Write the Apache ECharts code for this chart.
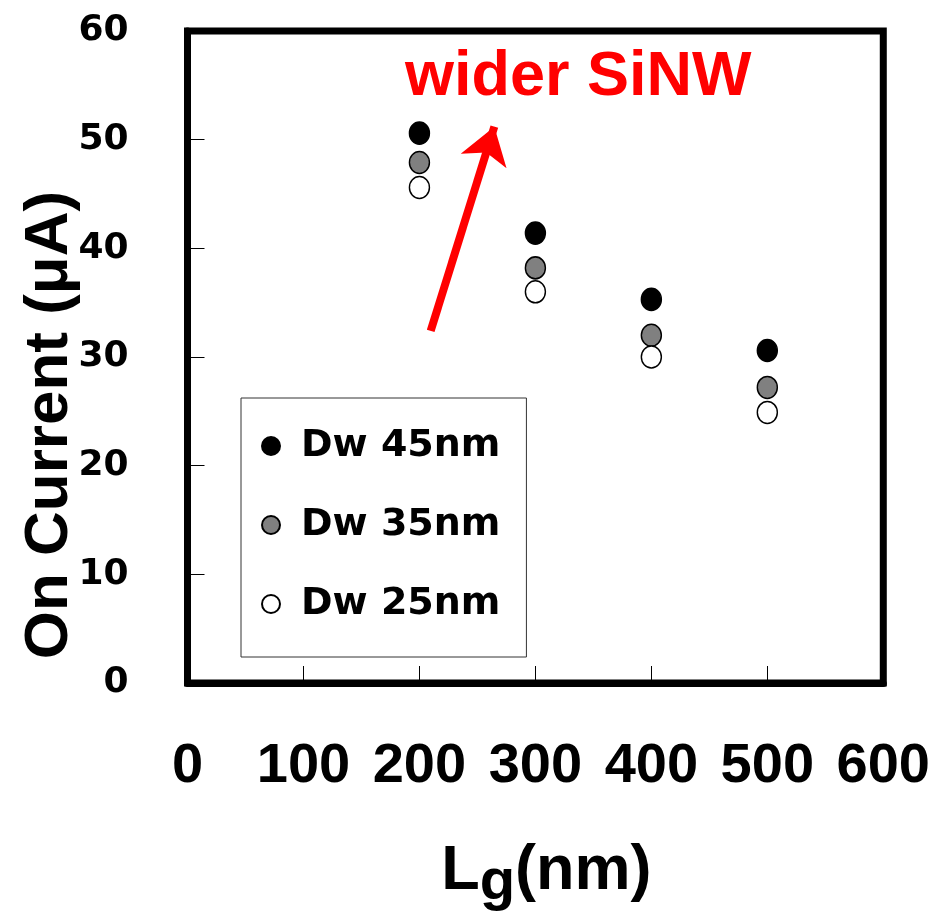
<!DOCTYPE html>
<html>
<head>
<meta charset="utf-8">
<script src="https://cdn.jsdelivr.net/npm/echarts@6/dist/echarts.min.js"></script>
<style>
html,body{margin:0;padding:0;background:#fff;overflow:hidden;}
#main{width:933px;height:917px;}
</style>
</head>
<body>
<div id="main"></div>
<script>
// Data
var lg = [200, 300, 400, 500];
var dw45 = [50.6, 41.4, 35.3, 30.6];
var dw35 = [47.9, 38.2, 32.0, 27.2];
var dw25 = [45.6, 36.0, 30.0, 24.9];
var seriesNames = ['Dw 45nm', 'Dw 35nm', 'Dw 25nm'];
var xTicks = [0, 100, 200, 300, 400, 500, 600];
var yTicks = [0, 10, 20, 30, 40, 50, 60];
// annotation arrow (data coordinates)
var arrowStart = [209.7, 32.4];
var arrowEnd = [264.6, 51.2];
var annotationText = 'wider SiNW';

function pairs(xs, ys) { return xs.map(function (x, i) { return [x, ys[i]]; }); }

var chart = echarts.init(document.getElementById('main'), null, {renderer: 'canvas', width: 933, height: 917});
var symSize = [20, 22];
var option = {
  backgroundColor: '#ffffff',
  animation: false,
  grid: {
    left: 187.5, top: 31, right: 46, bottom: 230,
    show: true, borderColor: '#000', borderWidth: 7, backgroundColor: 'transparent'
  },
  xAxis: {
    type: 'value', min: 0, max: 600, interval: 100,
    axisLine: {lineStyle: {color: '#000', width: 7}},
    axisTick: {inside: true, length: 17, lineStyle: {color: '#000', width: 1}},
    splitLine: {show: false},
    axisLabel: {
      margin: 56, color: '#000', fontFamily: '"Liberation Sans", Arial',
      fontWeight: 'bold', fontSize: 56,
      formatter: function (v) { return xTicks.indexOf(v) >= 0 ? String(v) : ''; }
    },
    name: '{a|L}{g|g}{a|(nm)}',
    nameLocation: 'middle',
    nameGap: 149,
    nameTextStyle: {
      padding: [0, 0, 0, 22],
      rich: {
        a: {fontFamily: '"Liberation Sans", Arial', fontWeight: 'bold', fontSize: 63, color: '#000', lineHeight: 80},
        g: {fontFamily: '"Liberation Sans", Arial', fontWeight: 'bold', fontSize: 58, color: '#000', lineHeight: 60, verticalAlign: 'bottom'}
      }
    }
  },
  yAxis: {
    type: 'value', min: 0, max: 60, interval: 10,
    axisLine: {lineStyle: {color: '#000', width: 7}},
    axisTick: {inside: true, length: 17, lineStyle: {color: '#000', width: 1}},
    splitLine: {show: false},
    axisLabel: {
      margin: 59, color: '#000', fontFamily: '"DejaVu Sans", sans-serif',
      fontWeight: 'bold', fontSize: 36,
      formatter: function (v) { return yTicks.indexOf(v) >= 0 ? String(v) : ''; }
    }
  },
  legend: {
    orient: 'vertical',
    left: 241, top: 398,
    padding: [28, 26, 33, 20],
    itemGap: 39,
    itemWidth: 18, itemHeight: 22,
    borderColor: '#333', borderWidth: 1,
    backgroundColor: '#fff',
    textStyle: {fontFamily: '"DejaVu Sans", sans-serif', fontWeight: 'bold', fontSize: 38, color: '#000', lineHeight: 40, padding: [0, 0, 0, 16]},
    data: seriesNames.map(function (n) { return {name: n, icon: 'circle'}; })
  },
  graphic: [
    {
      type: 'text', left: 405, top: 46,
      style: {text: annotationText, fill: '#ff0000', font: 'bold 63px "Liberation Sans", Arial'}
    },
    {
      type: 'text', x: 50, y: 425, rotation: Math.PI / 2,
      style: {text: 'On Current (\u03bcA)', fill: '#000', font: 'bold 62px "Liberation Sans", Arial', align: 'center', verticalAlign: 'middle'}
    }
  ],
  series: [
    {
      name: seriesNames[0], type: 'scatter', symbol: 'circle', symbolSize: symSize,
      itemStyle: {color: '#000', borderColor: '#000', borderWidth: 1.5, opacity: 1},
      data: pairs(lg, dw45), z: 3,
      markLine: {
        silent: true, animation: false,
        symbol: ['none', 'arrow'], symbolSize: 36,
        lineStyle: {color: '#ff0000', width: 8, type: 'solid'},
        label: {show: false},
        data: [[{coord: arrowStart}, {coord: arrowEnd}]]
      }
    },
    {
      name: seriesNames[1], type: 'scatter', symbol: 'circle', symbolSize: symSize,
      itemStyle: {color: '#808080', borderColor: '#000', borderWidth: 1.5, opacity: 1},
      data: pairs(lg, dw35), z: 3
    },
    {
      name: seriesNames[2], type: 'scatter', symbol: 'circle', symbolSize: symSize,
      itemStyle: {color: '#fff', borderColor: '#000', borderWidth: 1.5, opacity: 1},
      data: pairs(lg, dw25), z: 4
    }
  ]
};
chart.setOption(option);
</script>
</body>
</html>
